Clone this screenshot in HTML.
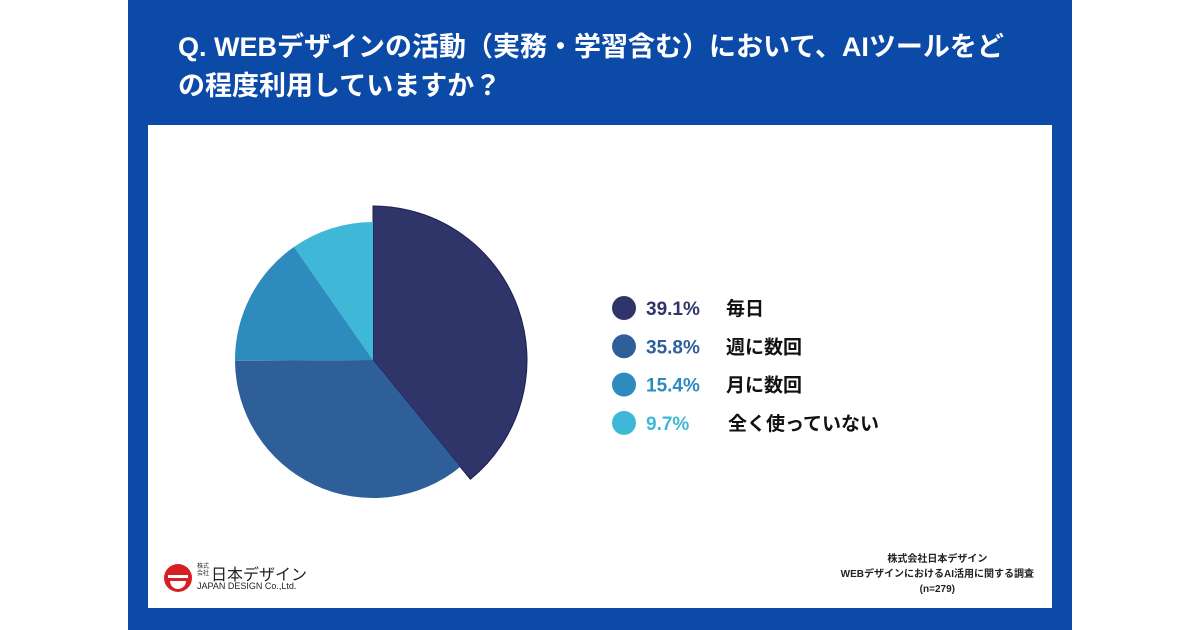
<!DOCTYPE html>
<html><head><meta charset="utf-8"><style>
body{margin:0;width:1200px;height:630px;background:#fff;position:relative;overflow:hidden;font-family:"Liberation Sans","Noto Sans CJK JP",sans-serif}
#frame{position:absolute;left:128px;top:0;width:944px;height:630px;background:#0c4aa8}
#title{position:absolute;left:178px;top:28px;white-space:nowrap;color:#fff;font-weight:bold;font-size:27px;line-height:39px}
#panel{position:absolute;left:148px;top:125px;width:904px;height:483px;background:#fff}
.src{position:absolute;right:166px;top:552px;text-align:center;font-size:10px;font-weight:bold;color:#222;line-height:15px}
</style></head><body>
<div id="frame"></div>
<div id="title">Q. WEBデザインの活動（実務・学習含む）において、AIツールをど<br>の程度利用していますか？</div>
<div id="panel"></div>
<svg id="chart" width="1200" height="630" style="position:absolute;left:0;top:0"></svg>
<div class="src">株式会社日本デザイン<br>WEBデザインにおけるAI活用に関する調査<br>(n=279)</div>
<div style="position:absolute;left:163px;top:563px;width:140px;height:30px">
<svg width="30" height="30" style="position:absolute;left:0;top:0"><circle cx="15" cy="15" r="14" fill="#d81e25"/><rect x="5" y="12" width="20" height="3" fill="#fff"/><path d="M7 18 H23 A8 8 0 0 1 7 18Z" fill="#fff"/></svg>
<div style="position:absolute;left:34px;top:1px;width:14px;font-size:6px;line-height:7px;color:#222">株式<br>会社</div>
<div style="position:absolute;left:48px;top:-2px;font-size:16px;color:#222;white-space:nowrap">日本デザイン</div>
<div style="position:absolute;left:34px;top:18px;font-size:9px;color:#222;white-space:nowrap">JAPAN DESIGN Co.,Ltd.</div>
</div>
<script>
const categories=["毎日","週に数回","月に数回","全く使っていない"];
const values=[39.1,35.8,15.4,9.7];
const labels=["39.1%","35.8%","15.4%","9.7%"];
const colors=["#2f3469","#2e5f99","#2d8bbd","#3fb8d8"];
const textColors=["#2f3469","#2e5f99","#2d8bbd","#3fb8d8"];
const svg=document.getElementById('chart');
const NS='http://www.w3.org/2000/svg';
const cx=373,cy=360,r=138,rBig=154;
const total=values.reduce((a,b)=>a+b,0);
function pt(a,rad){return [cx+rad*Math.sin(a),cy-rad*Math.cos(a)];}
let a0=0;
values.forEach((v,i)=>{
  const a1=a0+v/total*2*Math.PI;
  const rad=i===0?rBig:r;
  const p0=pt(a0,rad),p1=pt(a1,rad);
  const large=(a1-a0)>Math.PI?1:0;
  const p=document.createElementNS(NS,'path');
  p.setAttribute('d',`M${cx},${cy} L${p0[0]},${p0[1]} A${rad},${rad} 0 ${large} 1 ${p1[0]},${p1[1]} Z`);
  p.setAttribute('fill',colors[i]);
  if(i===0){p.setAttribute('stroke','#1c2050');p.setAttribute('stroke-width','1');}
  
  
  svg.appendChild(p);
  a0=a1;
  const y=308+i*38.3;
  const c=document.createElementNS(NS,'circle');
  c.setAttribute('cx',624);c.setAttribute('cy',y);c.setAttribute('r',12);c.setAttribute('fill',colors[i]);
  
  
  svg.appendChild(c);
  const t=document.createElementNS(NS,'text');
  t.setAttribute('x',646);t.setAttribute('y',y+7);t.setAttribute('font-size',19);t.setAttribute('font-weight','bold');t.setAttribute('fill',textColors[i]);
  t.textContent=labels[i];
  
  
  svg.appendChild(t);
  const t2=document.createElementNS(NS,'text');
  t2.setAttribute('x',i===3?728:726);t2.setAttribute('y',y+7);t2.setAttribute('font-size',19);t2.setAttribute('font-weight','bold');t2.setAttribute('fill','#111');
  t2.textContent=categories[i];
  
  
  svg.appendChild(t2);
});
</script>
</body></html>
